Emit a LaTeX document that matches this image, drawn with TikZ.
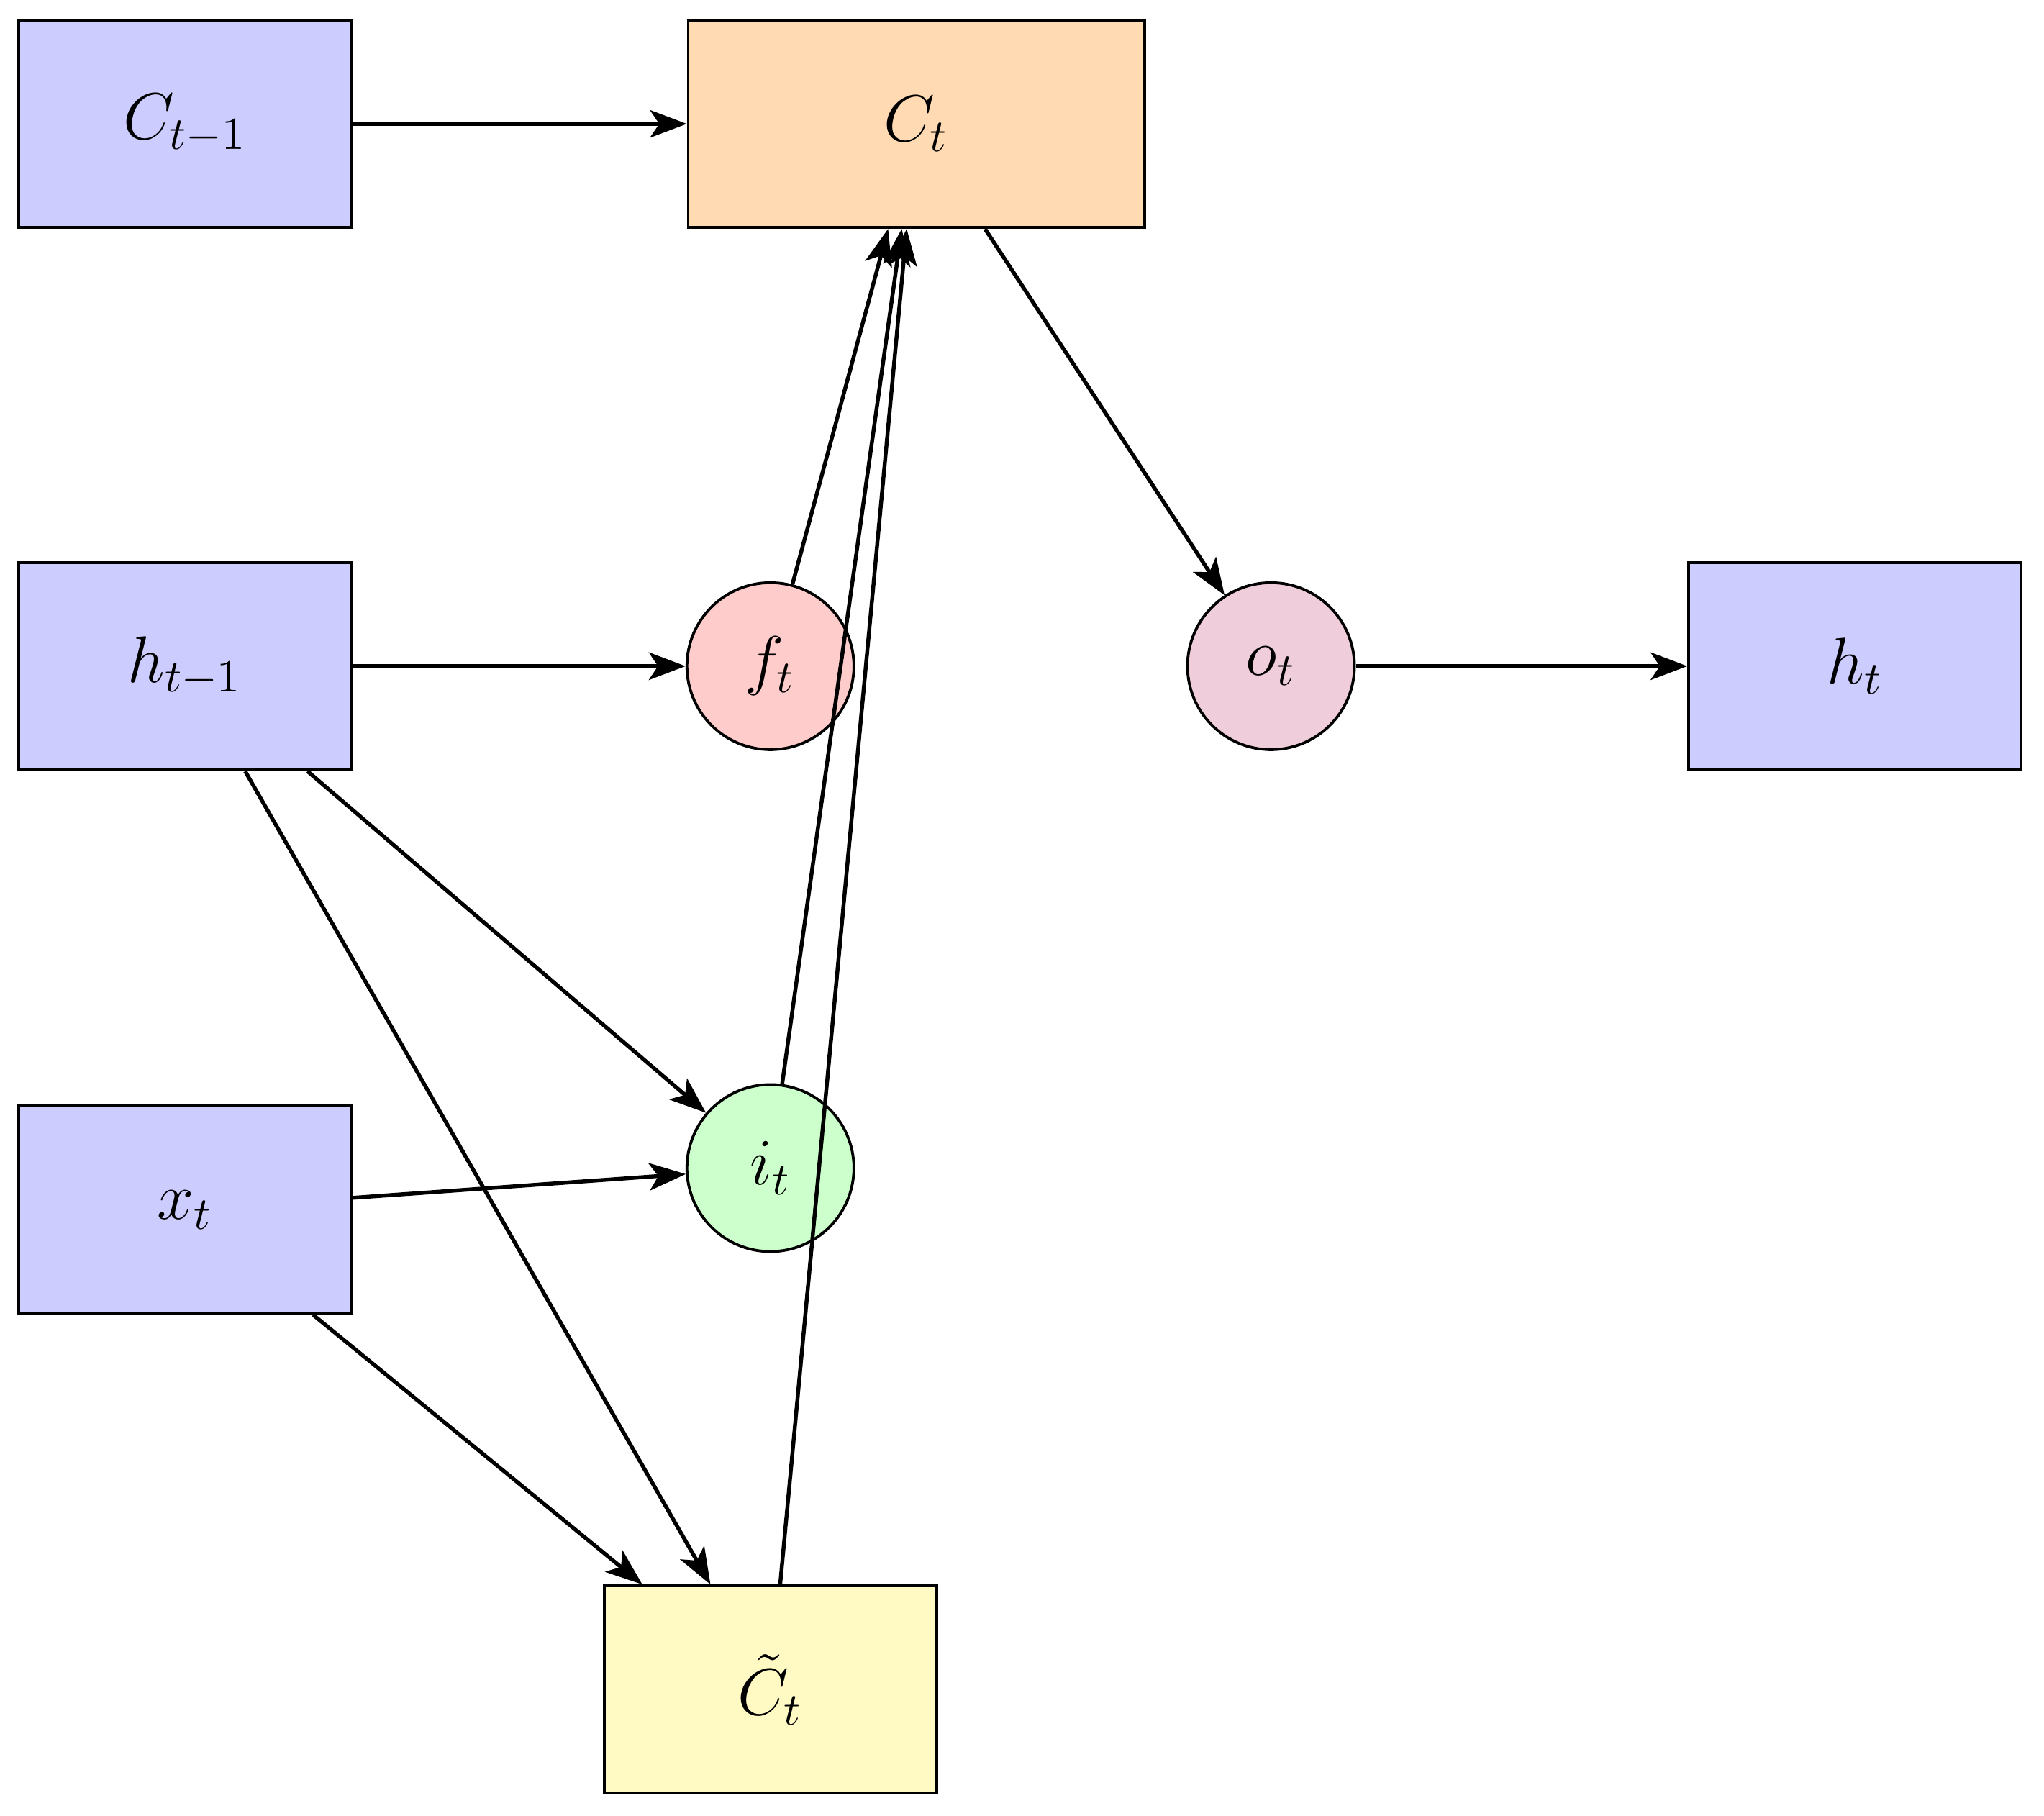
\documentclass[tikz,border=0pt]{standalone}
\usetikzlibrary{arrows.meta}
\begin{document}
\begin{tikzpicture}[x=0.01cm,y=-0.01cm,
  box/.style={draw,line width=0.6pt,minimum width=2.55cm,minimum height=1.59cm,inner sep=0pt,font=\Large},
  gate/.style={draw,circle,line width=0.6pt,minimum size=1.28cm,inner sep=0pt,font=\Large},
  arr/.style={line width=0.85pt,-{Stealth[length=8pt,width=6pt,inset=2pt]}}]
\useasboundingbox (0,0) rectangle (1568,1393);
\node[box,fill={rgb,255:red,204;green,204;blue,255}] (cp) at (142,95) {$C_{t-1}$};
\node[box,fill={rgb,255:red,255;green,218;blue,178},minimum width=3.5cm] (c) at (703,95) {$C_t$};
\node[box,fill={rgb,255:red,204;green,204;blue,255}] (hp) at (142,511) {$h_{t-1}$};
\node[gate,fill={rgb,255:red,255;green,204;blue,204}] (f) at (591,511) {$f_t$};
\node[gate,fill={rgb,255:red,240;green,205;blue,218}] (o) at (975,511) {$o_t$};
\node[box,fill={rgb,255:red,204;green,204;blue,255}] (h) at (1423,511) {$h_t$};
\node[box,fill={rgb,255:red,204;green,204;blue,255}] (x) at (142,928) {$x_t$};
\node[gate,fill={rgb,255:red,204;green,255;blue,204}] (i) at (591,896) {$i_t$};
\node[box,fill={rgb,255:red,255;green,250;blue,195}] (ct) at (591,1296) {$\tilde{C}_t$};
\draw[arr] (cp) -- (c);
\draw[arr] (hp) -- (f);
\draw[arr] (hp) -- (i);
\draw[arr] (hp) -- (ct);
\draw[arr] (x) -- (i);
\draw[arr] (x) -- (ct);
\draw[arr] (f) -- (c);
\draw[arr] (i) -- (c);
\draw[arr] (ct) -- (c);
\draw[arr] (c) -- (o);
\draw[arr] (o) -- (h);
\end{tikzpicture}
\end{document}
